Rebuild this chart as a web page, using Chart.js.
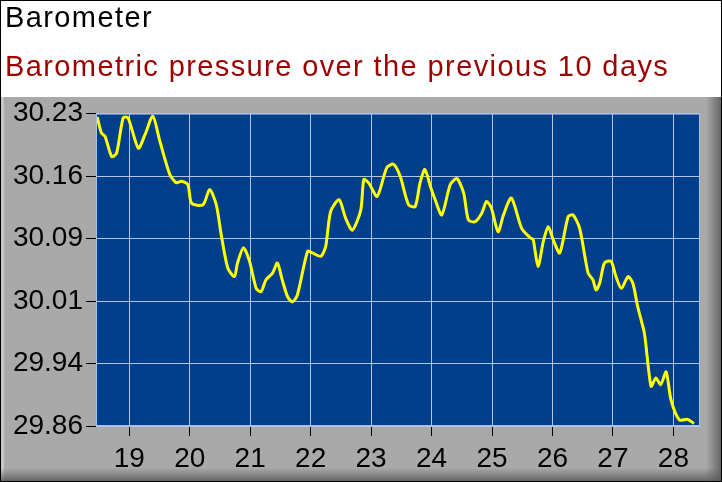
<!DOCTYPE html>
<html>
<head>
<meta charset="utf-8">
<script src="https://cdn.jsdelivr.net/npm/chart.js@4.4.1/dist/chart.umd.min.js"></script>
<style>
  html, body { margin: 0; padding: 0; background: #fff; }
  #wrap { width: 722px; height: 482px; }
</style>
</head>
<body>
<div id="wrap"><canvas id="baro"></canvas></div>
<script>
const chartTitle = "Barometer";
const chartSubtitle = "Barometric pressure over the previous 10 days";

// day of month (fractional) and pressure in inHg
const days = [
    18.47, 18.54, 18.60, 18.71, 18.79, 18.90, 18.98, 19.15, 19.26, 19.39,
    19.50, 19.67, 19.78, 19.86, 19.97, 20.03, 20.22, 20.33, 20.44, 20.52,
    20.63, 20.74, 20.79, 20.89, 20.99, 21.10, 21.18, 21.26, 21.37, 21.45,
    21.53, 21.62, 21.70, 21.78, 21.95, 22.03, 22.17, 22.25, 22.33, 22.47,
    22.58, 22.69, 22.83, 22.88, 22.96, 23.10, 23.26, 23.37, 23.48, 23.62,
    23.73, 23.81, 23.89, 23.98, 24.06, 24.17, 24.31, 24.42, 24.53, 24.61,
    24.72, 24.83, 24.91, 24.99, 25.10, 25.19, 25.32, 25.49, 25.63, 25.68,
    25.76, 25.85, 25.93, 26.01, 26.12, 26.26, 26.34, 26.45, 26.59, 26.67,
    26.72, 26.78, 26.86, 26.97, 27.05, 27.14, 27.25, 27.33, 27.41, 27.52,
    27.63, 27.71, 27.79, 27.88, 27.96, 28.10, 28.23, 28.34
];
const pressure = [
    30.226, 30.207, 30.203, 30.179, 30.183, 30.225, 30.225, 30.189, 30.205, 30.227,
    30.199, 30.158, 30.148, 30.150, 30.146, 30.124, 30.122, 30.140, 30.122, 30.087,
    30.047, 30.037, 30.053, 30.071, 30.055, 30.023, 30.019, 30.033, 30.041, 30.053,
    30.033, 30.013, 30.007, 30.015, 30.067, 30.065, 30.061, 30.073, 30.114, 30.128,
    30.106, 30.092, 30.116, 30.152, 30.148, 30.132, 30.166, 30.170, 30.156, 30.122,
    30.120, 30.148, 30.164, 30.144, 30.128, 30.110, 30.146, 30.153, 30.136, 30.104,
    30.102, 30.112, 30.126, 30.118, 30.090, 30.110, 30.130, 30.094, 30.083, 30.081,
    30.049, 30.079, 30.096, 30.081, 30.065, 30.108, 30.110, 30.094, 30.041, 30.033,
    30.021, 30.029, 30.053, 30.055, 30.037, 30.023, 30.037, 30.029, 30.001, 29.970,
    29.907, 29.917, 29.909, 29.924, 29.891, 29.867, 29.868, 29.863
];

const xTicks = [19, 20, 21, 22, 23, 24, 25, 26, 27, 28];
const yTickLabels = ["29.86", "29.94", "30.01", "30.09", "30.16", "30.23"];
const xMin = 18.45, xMax = 28.44;
const yMin = 29.86, yMax = 30.23;

const baseFont = "'Liberation Sans', Arial, sans-serif";

// paints the white header, grey bevelled panel and blue plot area
const framePlugin = {
    id: 'frame',
    beforeDraw(chart) {
        const ctx = chart.ctx;
        const w = chart.width, h = chart.height;
        const a = chart.chartArea;
        ctx.save();
        ctx.fillStyle = '#000';
        ctx.fillRect(0, 0, w, h);
        ctx.fillStyle = '#ffffff';
        ctx.fillRect(1, 1, w - 2, 96);
        ctx.fillStyle = '#a9a9a9';
        ctx.fillRect(1, 97, w - 2, h - 98);
        ctx.fillStyle = '#c6c6c6';
        ctx.fillRect(1, 97, 3, h - 98);
        let g = ctx.createLinearGradient(w - 16, 0, w - 1, 0);
        g.addColorStop(0, 'rgba(90,90,90,0)');
        g.addColorStop(1, 'rgba(90,90,90,0.85)');
        ctx.fillStyle = g;
        ctx.fillRect(w - 16, 97, 15, h - 98);
        g = ctx.createLinearGradient(0, h - 14, 0, h - 1);
        g.addColorStop(0, 'rgba(90,90,90,0)');
        g.addColorStop(1, 'rgba(90,90,90,0.85)');
        ctx.fillStyle = g;
        ctx.fillRect(1, h - 14, w - 2, 13);
        ctx.fillStyle = '#003f8c';
        ctx.fillRect(a.left, a.top, a.right - a.left, a.bottom - a.top);
        ctx.restore();
        // header text is spaced a little wider than plain Arial
        ctx.letterSpacing = '1.4px';
    },
    beforeDatasetsDraw(chart) {
        chart.ctx.letterSpacing = '0px';
    },
    afterDraw(chart) {
        const ctx = chart.ctx;
        const a = chart.chartArea;
        ctx.save();
        ctx.strokeStyle = '#a8c0e4';
        ctx.lineWidth = 1;
        ctx.strokeRect(a.left + 0.5, a.top + 0.5, a.right - a.left - 1, a.bottom - a.top - 1);
        ctx.restore();
    }
};

const ctx = document.getElementById('baro').getContext('2d');
const chart = new Chart(ctx, {
    type: 'line',
    data: {
        datasets: [{
            label: 'Pressure',
            data: days.map((d, i) => ({ x: d, y: pressure[i] })),
            borderColor: '#ffff00',
            borderWidth: 3,
            tension: 0.25,
            pointRadius: 0,
            fill: false
        }]
    },
    options: {
        responsive: true,
        maintainAspectRatio: false,
        animation: false,
        devicePixelRatio: 1,
        layout: { padding: { left: 5, right: 22, top: 0, bottom: 0 } },
        plugins: {
            legend: { display: false },
            tooltip: { enabled: false },
            title: {
                display: true,
                text: chartTitle,
                align: 'start',
                color: '#000000',
                font: { family: baseFont, size: 29, weight: 'normal' },
                padding: { top: 2, bottom: 14 }
            },
            subtitle: {
                display: true,
                text: chartSubtitle,
                align: 'start',
                color: '#9c0000',
                font: { family: baseFont, size: 29, weight: 'normal' },
                padding: { top: 0, bottom: 28 }
            }
        },
        scales: {
            x: {
                type: 'linear',
                min: xMin,
                max: xMax,
                afterBuildTicks: s => { s.ticks = xTicks.map(v => ({ value: v })); },
                afterFit: s => { s.height = 56; },
                grid: { color: '#b4c4e6', lineWidth: 1, tickLength: 10, tickColor: '#000', drawOnChartArea: true },
                border: { display: false },
                ticks: {
                    z: 1,
                    color: '#000',
                    padding: 6,
                    maxRotation: 0,
                    autoSkip: false,
                    font: { family: baseFont, size: 28 },
                    callback: v => String(v)
                }
            },
            y: {
                min: yMin,
                max: yMax,
                afterBuildTicks: s => {
                    const step = (yMax - yMin) / (yTickLabels.length - 1);
                    s.ticks = yTickLabels.map((t, i) => ({ value: yMin + i * step }));
                },
                afterFit: s => { s.width = 91; },
                grid: { color: '#b4c4e6', lineWidth: 1, tickLength: 10, tickColor: '#000' },
                border: { display: false },
                ticks: {
                    z: 1,
                    color: '#000',
                    padding: 3,
                    font: { family: baseFont, size: 28 },
                    callback: (v, i) => yTickLabels[i]
                }
            }
        }
    },
    plugins: [framePlugin]
});
</script>
</body>
</html>
